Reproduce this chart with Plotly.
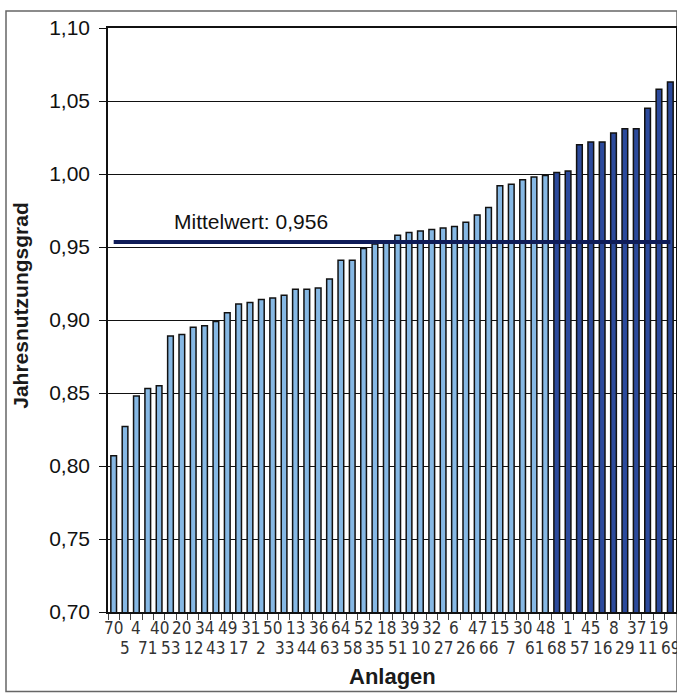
import plotly.graph_objects as go

anlagen = ["70", "5", "4", "71", "40", "53", "20", "12", "34", "43",
           "49", "17", "31", "2", "50", "33", "13", "44", "36", "63",
           "64", "58", "52", "35", "18", "51", "39", "10", "32", "27",
           "6", "26", "47", "66", "15", "7", "30", "61", "48", "68",
           "1", "57", "45", "16", "8", "29", "37", "11", "19", "69"]
jahresnutzungsgrad = [0.807, 0.827, 0.848, 0.853, 0.855, 0.889, 0.890, 0.895, 0.896, 0.899,
                      0.905, 0.911, 0.912, 0.914, 0.915, 0.917, 0.921, 0.921, 0.922, 0.928,
                      0.941, 0.941, 0.949, 0.952, 0.954, 0.958, 0.960, 0.961, 0.962, 0.963,
                      0.964, 0.967, 0.972, 0.977, 0.992, 0.993, 0.996, 0.998, 0.999, 1.001,
                      1.002, 1.020, 1.022, 1.022, 1.028, 1.031, 1.031, 1.045, 1.058, 1.063]
dark_anlagen = ["68", "1", "57", "45", "16", "8", "29", "37", "11", "19", "69"]
mittelwert_line = 0.9535
mittelwert_text = "Mittelwert: 0,956"
y_ticks = [0.70, 0.75, 0.80, 0.85, 0.90, 0.95, 1.00, 1.05, 1.10]

LIGHT = "#86b8e4"
DARK = "#2c4a9c"
colors = [DARK if a in dark_anlagen else LIGHT for a in anlagen]
idx = list(range(len(anlagen)))

fig = go.Figure()
fig.add_trace(go.Bar(
    x=idx, y=jahresnutzungsgrad,
    marker=dict(color=colors, line=dict(color="#111111", width=1.5)),
    showlegend=False,
))
fig.add_trace(go.Scatter(
    x=[idx[0], idx[-1]], y=[mittelwert_line, mittelwert_line],
    mode="lines", line=dict(color="#0f1c58", width=4), showlegend=False,
))

L, R, T, B = 108, 1, 28, 81.5
W, H = 677, 694
pw = W - L - R
ph = H - T - B

def px(xpix):
    return (xpix - L) / pw

def py(ypix):
    return (H - B - ypix) / ph

annotations = []
narrow = "Liberation Sans Narrow, Arial Narrow, DejaVu Sans Condensed, Liberation Sans, sans-serif"
for i, a in zip(idx, anlagen):
    annotations.append(dict(
        x=i, xref="x", y=0, yref="paper", text=a, showarrow=False,
        yanchor="top", xanchor="center", yshift=-4 if i % 2 == 0 else -24,
        font=dict(family=narrow, size=17, color="#333333"),
    ))
annotations.append(dict(
    x=px(251), xref="paper", y=0.9675, yref="y", text=mittelwert_text,
    showarrow=False, xanchor="center", yanchor="middle",
    font=dict(family="Liberation Sans, Arial, sans-serif", size=21, color="#111111"),
))
annotations.append(dict(
    x=0.5, xref="paper", y=py(677), yref="paper", text="<b>Anlagen</b>",
    showarrow=False, xanchor="center", yanchor="middle",
    font=dict(family="Liberation Sans, Arial, sans-serif", size=22, color="#1a1a1a"),
))
annotations.append(dict(
    x=px(21), xref="paper", y=py(306), yref="paper", text="<b>Jahresnutzungsgrad</b>",
    showarrow=False, xanchor="center", yanchor="middle", textangle=-90,
    font=dict(family="Liberation Sans, Arial, sans-serif", size=21, color="#1a1a1a"),
))

fig.update_layout(
    width=W, height=H,
    margin=dict(l=L, r=R, t=T, b=B, autoexpand=False),
    paper_bgcolor="white", plot_bgcolor="white",
    separators=",.",
    bargap=0.5,
    annotations=annotations,
    shapes=[dict(type="rect", xref="paper", yref="paper",
                 x0=px(6), x1=px(677), y0=py(692), y1=py(11),
                 line=dict(color="#666666", width=1.5), layer="below")],
    font=dict(family="Liberation Sans, Arial, sans-serif"),
)
fig.update_xaxes(
    range=[-0.5, len(anlagen) - 0.5],
    tickvals=[i - 0.5 for i in idx], showticklabels=False,
    ticks="outside", ticklen=6, tickcolor="#444444", tickwidth=1,
    showline=True, linecolor="#111111", linewidth=1.5, mirror=True,
    showgrid=False, zeroline=False,
)
fig.update_yaxes(
    range=[0.70, 1.10], tickvals=y_ticks, tickformat=".2f",
    ticks="outside", ticklen=7, tickcolor="#111111", ticklabelstandoff=5,
    tickfont=dict(size=21, color="#111111"),
    showline=True, linecolor="#111111", linewidth=1.5, mirror=True,
    showgrid=True, gridcolor="#111111", gridwidth=1,
    zeroline=False,
)

fig.write_html("out.html", config={"displayModeBar": False},
               post_script="document.body.style.margin='0';")
